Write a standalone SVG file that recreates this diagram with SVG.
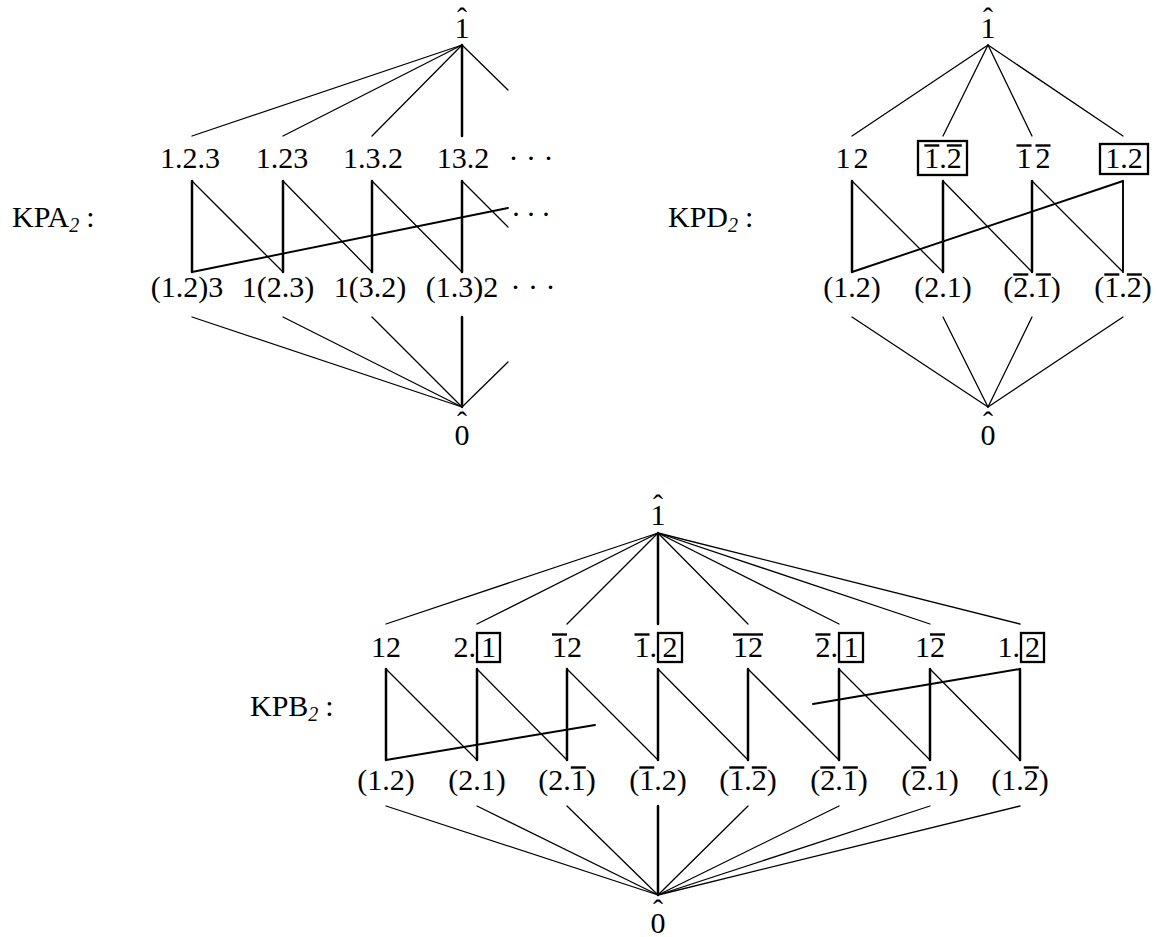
<svg xmlns="http://www.w3.org/2000/svg" width="1157" height="937" viewBox="0 0 1157 937">
<style>
.t{font-family:"Liberation Serif","Times New Roman",serif;font-size:30px;fill:#000}
.m{text-anchor:middle}
.e{text-anchor:end}
.sub{font-size:20px;font-style:italic}
.c{stroke:#000;stroke-width:1.3;fill:none;stroke-linecap:round}
.v{stroke-width:2.5}
.l{stroke-width:1.9}
.box{fill:none;stroke:#000;stroke-width:2.3}
.ol{stroke:#000;stroke-width:2.4}
</style>
<rect width="1157" height="937" fill="#fff"/>
<g id="connectors">
<line class="c" x1="462" y1="45" x2="192" y2="136"/>
<line class="c" x1="462" y1="45" x2="283" y2="136"/>
<line class="c" x1="462" y1="45" x2="372" y2="136"/>
<line class="c v" x1="462" y1="45" x2="462" y2="136"/>
<line class="c" x1="462" y1="45" x2="508" y2="90"/>
<line class="c v" x1="192" y1="181" x2="192" y2="272"/>
<line class="c v" x1="283" y1="181" x2="283" y2="272"/>
<line class="c v" x1="372" y1="181" x2="372" y2="272"/>
<line class="c v" x1="462" y1="181" x2="462" y2="272"/>
<line class="c" x1="192" y1="181" x2="283" y2="272"/>
<line class="c" x1="283" y1="181" x2="372" y2="272"/>
<line class="c" x1="372" y1="181" x2="462" y2="272"/>
<line class="c" x1="462" y1="181" x2="508" y2="227"/>
<line class="c l" x1="192" y1="272" x2="508" y2="208"/>
<line class="c" x1="192" y1="317" x2="462" y2="407"/>
<line class="c" x1="283" y1="317" x2="462" y2="407"/>
<line class="c" x1="372" y1="317" x2="462" y2="407"/>
<line class="c v" x1="462" y1="317" x2="462" y2="407"/>
<line class="c" x1="508" y1="362" x2="462" y2="407"/>
<line class="c" x1="988" y1="45" x2="852" y2="136"/>
<line class="c" x1="988" y1="45" x2="943" y2="136"/>
<line class="c" x1="988" y1="45" x2="1032" y2="136"/>
<line class="c" x1="988" y1="45" x2="1123" y2="136"/>
<line class="c v" x1="852" y1="181" x2="852" y2="272"/>
<line class="c v" x1="943" y1="181" x2="943" y2="272"/>
<line class="c v" x1="1032" y1="181" x2="1032" y2="272"/>
<line class="c l" x1="1123" y1="181" x2="1123" y2="272"/>
<line class="c" x1="852" y1="181" x2="943" y2="272"/>
<line class="c" x1="943" y1="181" x2="1032" y2="272"/>
<line class="c" x1="1032" y1="181" x2="1123" y2="272"/>
<line class="c l" x1="852" y1="272" x2="1123" y2="181"/>
<line class="c" x1="852" y1="317" x2="988" y2="407"/>
<line class="c" x1="943" y1="317" x2="988" y2="407"/>
<line class="c" x1="1032" y1="317" x2="988" y2="407"/>
<line class="c" x1="1123" y1="317" x2="988" y2="407"/>
<line class="c" x1="658" y1="533" x2="386" y2="624"/>
<line class="c" x1="658" y1="533" x2="477" y2="624"/>
<line class="c" x1="658" y1="533" x2="567" y2="624"/>
<line class="c v" x1="658" y1="533" x2="658" y2="624"/>
<line class="c" x1="658" y1="533" x2="748" y2="624"/>
<line class="c" x1="658" y1="533" x2="839" y2="624"/>
<line class="c" x1="658" y1="533" x2="930" y2="624"/>
<line class="c" x1="658" y1="533" x2="1020" y2="624"/>
<line class="c v" x1="386" y1="669" x2="386" y2="760"/>
<line class="c v" x1="477" y1="669" x2="477" y2="760"/>
<line class="c v" x1="567" y1="669" x2="567" y2="760"/>
<line class="c v" x1="658" y1="669" x2="658" y2="760"/>
<line class="c v" x1="748" y1="669" x2="748" y2="760"/>
<line class="c v" x1="839" y1="669" x2="839" y2="760"/>
<line class="c v" x1="930" y1="669" x2="930" y2="760"/>
<line class="c v" x1="1020" y1="669" x2="1020" y2="760"/>
<line class="c" x1="386" y1="669" x2="477" y2="760"/>
<line class="c" x1="477" y1="669" x2="567" y2="760"/>
<line class="c" x1="567" y1="669" x2="658" y2="760"/>
<line class="c" x1="658" y1="669" x2="748" y2="760"/>
<line class="c" x1="748" y1="669" x2="839" y2="760"/>
<line class="c" x1="839" y1="669" x2="930" y2="760"/>
<line class="c" x1="930" y1="669" x2="1020" y2="760"/>
<line class="c l" x1="386" y1="760" x2="595" y2="725"/>
<line class="c l" x1="813" y1="704" x2="1020" y2="669"/>
<line class="c" x1="386" y1="806" x2="658" y2="895"/>
<line class="c" x1="477" y1="806" x2="658" y2="895"/>
<line class="c" x1="567" y1="806" x2="658" y2="895"/>
<line class="c v" x1="658" y1="806" x2="658" y2="895"/>
<line class="c" x1="748" y1="806" x2="658" y2="895"/>
<line class="c" x1="839" y1="806" x2="658" y2="895"/>
<line class="c" x1="930" y1="806" x2="658" y2="895"/>
<line class="c" x1="1020" y1="806" x2="658" y2="895"/>
</g>

<g id="kpa-label"><text class="t" x="12" y="227">KPA<tspan class="sub" dy="5">2</tspan><tspan dx="7" dy="-5">:</tspan></text></g>
<g id="kpa-top"><text class="t m" x="462 462" y="38 28">1ˆ</text></g>
<g id="kpa-1.2.3"><text class="t m" x="190" y="168">1.2.3</text></g>
<g id="kpa-1.23"><text class="t m" x="282" y="168">1.23</text></g>
<g id="kpa-1.3.2"><text class="t m" x="373" y="168">1.3.2</text></g>
<g id="kpa-13.2"><text class="t m" x="463" y="168">13.2</text></g>
<g id="kpa-dots-top"><text class="t m" x="531" y="168">· · ·</text></g>
<g id="kpa-dots-mid"><text class="t m" x="531" y="216">. . .</text></g>
<g id="kpa-(1.2)3"><text class="t m" x="187" y="297">(1.2)3</text></g>
<g id="kpa-1(2.3)"><text class="t m" x="278" y="297">1(2.3)</text></g>
<g id="kpa-1(3.2)"><text class="t m" x="370" y="297">1(3.2)</text></g>
<g id="kpa-(1.3)2"><text class="t m" x="462" y="297">(1.3)2</text></g>
<g id="kpa-dots-bot"><text class="t m" x="533" y="297">· · ·</text></g>
<g id="kpa-bottom"><text class="t m" x="462 462" y="445 432">0ˆ</text></g>

<g id="kpd-label"><text class="t" x="668" y="227">KPD<tspan class="sub" dy="5">2</tspan><tspan dx="7" dy="-5">:</tspan></text></g>
<g id="kpd-top"><text class="t m" x="988 988" y="38 28">1ˆ</text></g>
<g id="kpd-12"><text class="t m" x="843 861" y="168">12</text></g>
<g id="kpd-b1b2-box"><rect class="box" x="918" y="141" width="49" height="34"/><text class="t m" x="943" y="168">1.2</text><line class="ol" x1="924.3" y1="145.5" x2="939.3" y2="145.5"/><line class="ol" x1="946.8" y1="145.5" x2="961.8" y2="145.5"/></g>
<g id="kpd-b1-b2"><text class="t m" x="1024 1043" y="168">12</text><line class="ol" x1="1016.5" y1="145.5" x2="1031.5" y2="145.5"/><line class="ol" x1="1035.5" y1="145.5" x2="1050.5" y2="145.5"/></g>
<g id="kpd-1.2-box"><rect class="box" x="1100" y="144" width="48" height="30"/><text class="t m" x="1124" y="168">1.2</text></g>
<g id="kpd-(1.2)"><text class="t m" x="852" y="297">(1.2)</text></g>
<g id="kpd-(2.1)"><text class="t m" x="943" y="297">(2.1)</text></g>
<g id="kpd-(b2.b1)"><text class="t m" x="1032" y="297">(2.1)</text><line class="ol" x1="1013.3" y1="274.5" x2="1028.3" y2="274.5"/><line class="ol" x1="1035.8" y1="274.5" x2="1050.8" y2="274.5"/></g>
<g id="kpd-(b1.b2)"><text class="t m" x="1123" y="297">(1.2)</text><line class="ol" x1="1104.3" y1="274.5" x2="1119.3" y2="274.5"/><line class="ol" x1="1126.8" y1="274.5" x2="1141.8" y2="274.5"/></g>
<g id="kpd-bottom"><text class="t m" x="988 988" y="445 432">0ˆ</text></g>

<g id="kpb-label"><text class="t" x="250" y="716">KPB<tspan class="sub" dy="5">2</tspan><tspan dx="7" dy="-5">:</tspan></text></g>
<g id="kpb-top"><text class="t m" x="658 658" y="525 515">1ˆ</text></g>
<g id="kpb-12"><text class="t m" x="386" y="657">12</text></g>
<g id="kpb-2.b1"><text class="t e" x="476" y="657">2.<tspan class="m" x="488.5">1</tspan></text><rect class="box" x="477" y="633" width="23" height="29"/></g>
<g id="kpb-b12"><text class="t m" x="567" y="657">12</text><line class="ol" x1="552" y1="634.5" x2="567" y2="634.5"/></g>
<g id="kpb-b1.b2"><text class="t e" x="657" y="657">1.<tspan class="m" x="670">2</tspan></text><line class="ol" x1="634.5" y1="634.5" x2="649.5" y2="634.5"/><rect class="box" x="658" y="633" width="24" height="29"/></g>
<g id="kpb-b12bar"><text class="t m" x="748" y="657">12</text><line class="ol" x1="733" y1="634.5" x2="763" y2="634.5"/></g>
<g id="kpb-b2.b1"><text class="t e" x="838" y="657">2.<tspan class="m" x="851">1</tspan></text><line class="ol" x1="815.5" y1="634.5" x2="830.5" y2="634.5"/><rect class="box" x="839" y="633" width="24" height="29"/></g>
<g id="kpb-1b2"><text class="t m" x="930" y="657">12</text><line class="ol" x1="930" y1="634.5" x2="945" y2="634.5"/></g>
<g id="kpb-1.b2"><text class="t e" x="1020" y="657">1.<tspan class="m" x="1032.5">2</tspan></text><rect class="box" x="1021" y="633" width="23" height="29"/></g>
<g id="kpb-(1.2)"><text class="t m" x="386" y="790">(1.2)</text></g>
<g id="kpb-(2.1)"><text class="t m" x="477" y="790">(2.1)</text></g>
<g id="kpb-(2.b1)"><text class="t m" x="567" y="790">(2.1)</text><line class="ol" x1="570.8" y1="767.5" x2="585.8" y2="767.5"/></g>
<g id="kpb-(b1.2)"><text class="t m" x="658" y="790">(1.2)</text><line class="ol" x1="639.3" y1="767.5" x2="654.3" y2="767.5"/></g>
<g id="kpb-(b1.b2)"><text class="t m" x="748" y="790">(1.2)</text><line class="ol" x1="729.3" y1="767.5" x2="744.3" y2="767.5"/><line class="ol" x1="751.8" y1="767.5" x2="766.8" y2="767.5"/></g>
<g id="kpb-(b2.b1)"><text class="t m" x="839" y="790">(2.1)</text><line class="ol" x1="820.3" y1="767.5" x2="835.3" y2="767.5"/><line class="ol" x1="842.8" y1="767.5" x2="857.8" y2="767.5"/></g>
<g id="kpb-(b2.1)"><text class="t m" x="930" y="790">(2.1)</text><line class="ol" x1="911.3" y1="767.5" x2="926.3" y2="767.5"/></g>
<g id="kpb-(1.b2)"><text class="t m" x="1020" y="790">(1.2)</text><line class="ol" x1="1023.8" y1="767.5" x2="1038.8" y2="767.5"/></g>
<g id="kpb-bottom"><text class="t m" x="658 658" y="933 920">0ˆ</text></g>
</svg>
